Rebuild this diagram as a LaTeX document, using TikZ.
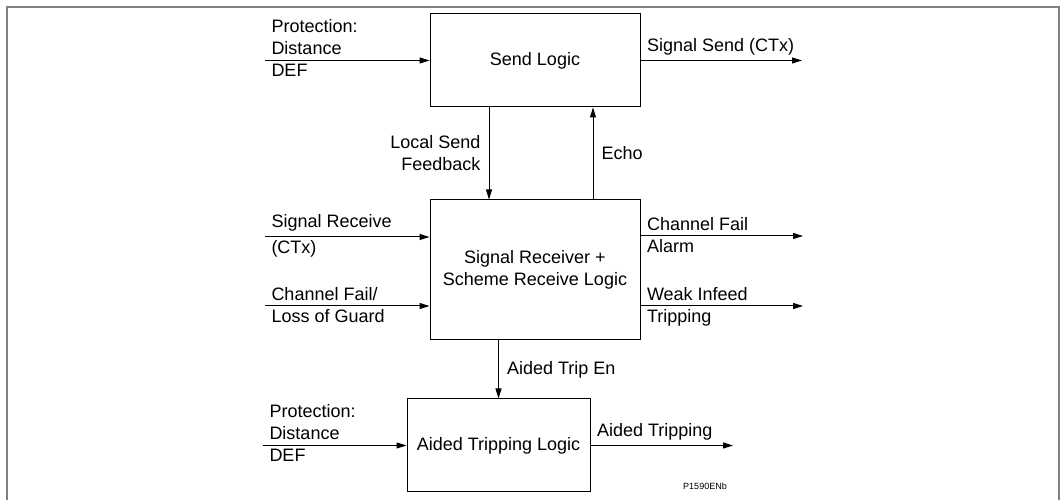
\documentclass[tikz,border=0pt]{standalone}
\usepackage{fontspec}
\setmainfont{Liberation Sans}
\usetikzlibrary{arrows.meta,calc}
\definecolor{ink}{HTML}{000000}
\definecolor{rim}{HTML}{808080}
\tikzset{
  >={Triangle[length=10pt,width=6pt]},
  every node/.style={font=\fontsize{18}{22}\selectfont,text=ink},
  block/.style={draw=ink,line width=1pt,fill=white,align=center,inner sep=0pt},
  sig/.style={->,line width=1pt,draw=ink},
  uplbl/.style={anchor=south west,align=left,inner xsep=6pt,inner ysep=5pt},
  dnlbl/.style={anchor=north west,align=left,inner xsep=6pt,inner ysep=3pt},
  sidelbl/.style={inner xsep=8pt,inner ysep=0pt},
  refcode/.style={font=\fontsize{9}{11}\selectfont},
}

\begin{document}
\begin{tikzpicture}[x=1pt,y=1pt]
\useasboundingbox (0,0) rectangle (1060,500);
\draw[rim,line width=2pt] (7,0) -- (7,493) -- (1059,493) -- (1059,0);

% Blocks
\node[block,minimum width=210pt,minimum height=93pt] (send) at (535,439.5) {Send Logic};
\node[block,minimum width=210pt,minimum height=140pt] (recv) at (535,230)
{Signal Receiver +\\Scheme Receive Logic};
\node[block,minimum width=183pt,minimum height=93pt] (trip) at (498.5,54.5) {Aided Tripping Logic};
\node[refcode] (code) at (705,14) {P1590ENb};

% Send logic in/out
\coordinate (pa) at (265,439.5);
\coordinate (sa) at (802,439.5);
\draw[sig] (pa) -- (send.west) node[pos=0,uplbl] {Protection:\\Distance} node[pos=0,dnlbl] {DEF};
\draw[sig] (send.east) -- (sa) node[pos=0,uplbl] {Signal Send (CTx)};

% Between send and receive
\draw[sig] ([xshift=-46pt]send.south) -- ([xshift=-46pt]recv.north)
  node[midway,left,align=right,sidelbl] {Local Send\\Feedback};
\draw[sig] ([xshift=58pt]recv.north) -- ([xshift=58pt]send.south)
  node[midway,right,sidelbl] {Echo};

% Receive logic in/out
\coordinate (rb) at (265,263);
\coordinate (rc) at (265,194);
\coordinate (ra) at (803,264);
\coordinate (rd) at (803,194);
\draw[sig] (rb) -- (rb -| recv.west) node[pos=0,uplbl] {Signal Receive} node[pos=0,dnlbl] {(CTx)};
\draw[sig] (rc) -- (rc -| recv.west) node[pos=0,uplbl] {Channel Fail/} node[pos=0,dnlbl] {Loss of Guard};
\draw[sig] (ra -| recv.east) -- (ra) node[pos=0,uplbl] {Channel Fail} node[pos=0,dnlbl] {Alarm};
\draw[sig] (rd -| recv.east) -- (rd) node[pos=0,uplbl] {Weak Infeed} node[pos=0,dnlbl] {Tripping};

% Aided tripping
\draw[sig] (trip.north |- recv.south) -- (trip.north) node[midway,right,sidelbl] {Aided Trip En};
\coordinate (ta) at (263,54.5);
\coordinate (tb) at (733,54.5);
\draw[sig] (ta) -- (trip.west) node[pos=0,uplbl] {Protection:\\Distance} node[pos=0,dnlbl] {DEF};
\draw[sig] (trip.east) -- (tb) node[pos=0,uplbl] {Aided Tripping};

\end{tikzpicture}
\end{document}
